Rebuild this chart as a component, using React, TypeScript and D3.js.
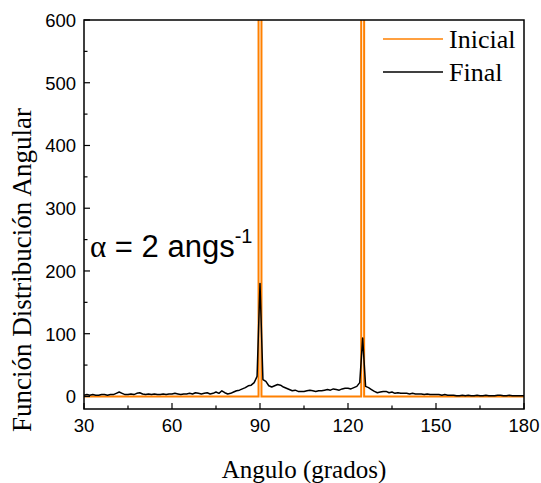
import React from "react";
import * as d3 from "d3";

const xTicks = [30, 60, 90, 120, 150, 180];
const yTicks = [0, 100, 200, 300, 400, 500, 600];
const xMinor = [45, 75, 105, 135, 165];
const yMinor = [50, 150, 250, 350, 450, 550];

const inicialAngles = [30, 89.5, 89.5, 90.5, 90.5, 124.5, 124.5, 125.5, 125.5, 180];
const inicialValues = [0, 0, 3000, 3000, 0, 0, 3000, 3000, 0, 0];

const finalStart = 30;
const finalValues = [
  2, 3, 2, 3, 2, 2, 3, 3, 2, 3,
  3, 5, 7, 5, 3, 3, 4, 3, 5, 6,
  4, 3, 4, 3, 4, 3, 3, 4, 3, 4,
  4, 5, 4, 3, 4, 4, 5, 4, 6, 5,
  4, 5, 6, 4, 5, 7, 5, 9, 6, 4,
  5, 7, 9, 10, 12, 14, 17, 18, 22, 32,
  180,
  27, 24, 17, 15, 17, 19, 18, 15, 13,
  11, 9, 10, 8, 8, 8, 9, 10, 9, 8,
  9, 9, 10, 11, 10, 12, 11, 10, 12, 13,
  13, 12, 14, 16, 22,
  93,
  16, 14, 11, 8,
  6, 7, 8, 8, 6, 7, 5, 6, 5, 5,
  5, 4, 5, 4, 4, 4, 3, 4, 3, 3,
  3, 3, 2, 3, 2, 2, 2, 1, 1, 2,
  1, 2, 1, 1, 2, 1, 1, 2, 1, 1,
  1, 2, 2, 1, 1, 2, 1, 1, 1, 1,
  1,
];

const seriesNames = ["Inicial", "Final"];
const seriesColors = ["#ff8000", "#000000"];

export default function App() {
  const W = 541, H = 483;
  const left = 84, right = 524, top = 20, bottom = 409;
  const x = d3.scaleLinear().domain([30, 180]).range([left, right]);
  const y = d3.scaleLinear().domain([-20, 600]).range([bottom, top]);

  const inicial = inicialAngles.map((a, i) => [a, inicialValues[i]] as [number, number]);
  const final = finalValues.map((v, i) => [finalStart + i, v] as [number, number]);
  const line = d3.line<[number, number]>().x(d => x(d[0])).y(d => y(d[1]));

  const tickFont = "Arial, 'Liberation Sans', sans-serif";
  const serif = "'Times New Roman', 'Liberation Serif', serif";

  return (
    <svg width={W} height={H} style={{ position: "absolute", left: 0, top: 0, background: "#fff" }}>
      <defs>
        <clipPath id="plot">
          <rect x={left} y={top} width={right - left} height={bottom - top} />
        </clipPath>
      </defs>
      <g clipPath="url(#plot)">
        <path d={line(inicial) || ""} fill="none" stroke={seriesColors[0]} strokeWidth={2} />
        <path d={line(final) || ""} fill="none" stroke={seriesColors[1]} strokeWidth={1.5} strokeLinejoin="round" />
      </g>
      <rect x={left} y={top} width={right - left} height={bottom - top} fill="none" stroke="#000" strokeWidth={1.5} />
      {xTicks.map(t => (
        <g key={"xt" + t}>
          <line x1={x(t)} x2={x(t)} y1={bottom} y2={bottom - 6} stroke="#000" strokeWidth={1.2} />
          <text x={x(t)} y={432} textAnchor="middle" fontFamily={tickFont} fontSize={18.5}>{t}</text>
        </g>
      ))}
      {xMinor.map(t => (
        <line key={"xm" + t} x1={x(t)} x2={x(t)} y1={bottom} y2={bottom - 3.5} stroke="#000" strokeWidth={1.2} />
      ))}
      {yTicks.map(t => (
        <g key={"yt" + t}>
          <line x1={left} x2={left + 6} y1={y(t)} y2={y(t)} stroke="#000" strokeWidth={1.2} />
          <text x={76} y={y(t) + 7} textAnchor="end" fontFamily={tickFont} fontSize={18.5}>{t}</text>
        </g>
      ))}
      {yMinor.map(t => (
        <line key={"ym" + t} x1={left} x2={left + 3.5} y1={y(t)} y2={y(t)} stroke="#000" strokeWidth={1.2} />
      ))}
      <text x={(left + right) / 2} y={478} textAnchor="middle" fontFamily={serif} fontSize={25}>Angulo (grados)</text>
      <text transform={`translate(31,270) rotate(-90)`} textAnchor="middle" fontFamily={serif} fontSize={27}>Función Distribución Angular</text>
      {seriesNames.map((n, i) => (
        <g key={n}>
          <line x1={383} x2={443} y1={39 + i * 33} y2={39 + i * 33} stroke={seriesColors[i]} strokeWidth={1.5} />
          <text x={449} y={48 + i * 33} fontFamily={serif} fontSize={26}>{n}</text>
        </g>
      ))}
      <text x={90} y={257} fontFamily={tickFont} fontSize={31}>
        <tspan fontFamily={serif}>α</tspan> = 2 angs<tspan dy={-14} fontSize={20}>-1</tspan>
      </text>
    </svg>
  );
}
